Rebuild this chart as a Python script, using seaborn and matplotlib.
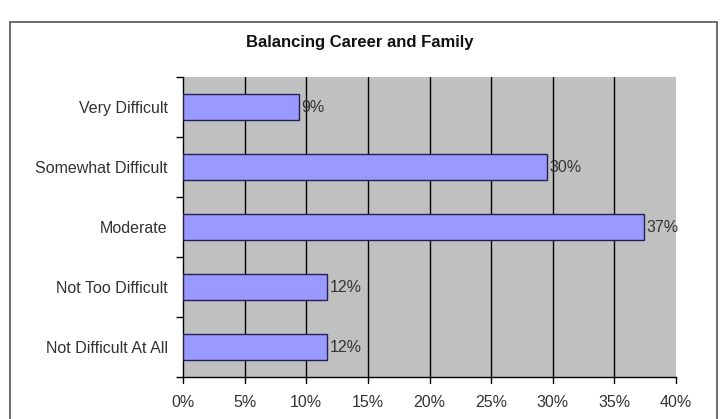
import matplotlib
matplotlib.use("Agg")
import matplotlib.pyplot as plt
import seaborn as sns
import pandas as pd
from matplotlib.patches import Rectangle

categories = ["Very Difficult", "Somewhat Difficult", "Moderate", "Not Too Difficult", "Not Difficult At All"]
values = [9.4, 29.5, 37.4, 11.7, 11.7]
labels = ["9%", "30%", "37%", "12%", "12%"]
xticks = [0, 5, 10, 15, 20, 25, 30, 35, 40]
xticklabels = ["0%", "5%", "10%", "15%", "20%", "25%", "30%", "35%", "40%"]

sns.set_theme(style="white")
plt.rcParams["font.family"] = ["Liberation Sans", "DejaVu Sans"]

df = pd.DataFrame({"cat": categories, "val": values})

fig = plt.figure(figsize=(7.24, 4.19), dpi=100)
ax = fig.add_axes([183/724, 1 - 377/419, (676-183)/724, (377-77)/419])
ax.set_facecolor("#C0C0C0")

sns.barplot(data=df, x="val", y="cat", orient="h", color="#9999FF",
            saturation=1, width=0.44, edgecolor="#222255", linewidth=1.0, ax=ax, zorder=3)

ax.set_xlim(0, 40)
ax.set_ylim(4.5, -0.5)
ax.set_xticks(xticks)
ax.set_xticklabels(xticklabels, fontsize=11.5, color="#333333")
ax.set_yticks(range(len(categories)))
ax.set_yticklabels(categories, fontsize=11.5, color="#333333")
ax.tick_params(axis="y", length=0, pad=11)
ax.tick_params(axis="x", length=0, pad=13)
ax.set_yticks([i + 0.5 for i in range(-1, len(categories))], minor=True)
ax.tick_params(axis="y", which="minor", length=5, width=1, color="black", left=True, direction="out")
for xv in xticks:
    ax.plot([xv, xv], [4.5, 4.6], color="black", lw=1, clip_on=False, zorder=4)

for xv in xticks[1:-1]:
    ax.axvline(xv, color="black", lw=1, zorder=1)

ax.set_xlabel("")
ax.set_ylabel("")
for s in ["top", "right"]:
    ax.spines[s].set_visible(False)
ax.spines["left"].set_color("black")
ax.spines["bottom"].set_color("black")
ax.spines["left"].set_linewidth(1)
ax.spines["bottom"].set_linewidth(1)

for i, (v, lab) in enumerate(zip(values, labels)):
    ax.text(v + 0.2, i, lab, va="center", ha="left", fontsize=11.5, color="#333333", zorder=5)

fig.text(360/724, 1 - 42/419, "Balancing Career and Family",
         ha="center", va="center", fontsize=12, fontweight="bold", color="#111111")

fig.patches.append(Rectangle((10/724, -0.05), (717-10)/724, 1.05 - 22/419, transform=fig.transFigure,
                             fill=False, edgecolor="#555555", lw=1.2))

fig.savefig("out.png", dpi=100)
